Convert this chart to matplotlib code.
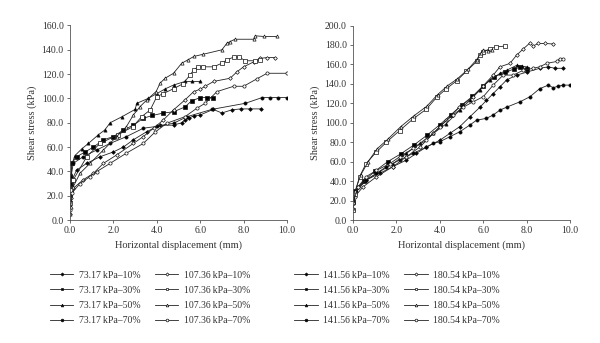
import matplotlib.pyplot as plt

plt.rcParams['font.family'] = ['Liberation Serif', 'DejaVu Serif']

# ---- left panel: 73.17 kPa and 107.36 kPa ----
x_73_10 = [0, 0.03, 0.1, 0.3, 0.77, 1.38, 2.0, 2.46, 2.92, 3.54, 4.15, 4.77, 5.15, 5.3, 5.5, 5.7, 6.0, 6.6, 7.0, 7.45, 7.87, 8.3, 8.8]
y_73_10 = [16, 25, 33, 41, 46.6, 52, 56, 60, 66, 72.7, 78, 78, 80, 82.3, 84, 85.6, 86.4, 91, 88, 90.6, 91.4, 91.4, 91.4]
x_73_30 = [0, 0.03, 0.08, 0.3, 0.7, 1.08, 1.54, 2.0, 2.46, 2.92, 3.38, 3.8, 4.3, 4.77, 5.3, 5.6, 6.0, 6.3, 6.6]
y_73_30 = [20, 30, 46.6, 52, 56, 60, 66, 68.6, 74, 78, 83.7, 86, 88, 89, 93, 98, 100.7, 100.7, 100.7]
x_73_50 = [0, 0.05, 0.1, 0.23, 0.54, 0.85, 1.3, 1.6, 1.85, 2.4, 3.0, 3.08, 3.6, 4.0, 4.4, 4.77, 5.3, 5.6, 6.0]
y_73_50 = [25, 38, 46.6, 53, 58.5, 63, 70, 74, 80, 85, 91, 96, 100, 104, 108, 111, 114, 114, 114]
x_73_70 = [0, 0.05, 0.15, 0.6, 1.23, 1.85, 2.6, 3.38, 4.0, 4.77, 5.4, 6.54, 8.08, 8.85, 9.23, 9.6, 10.0]
y_73_70 = [22, 35.7, 46.6, 52, 57.6, 63, 68.6, 75.5, 77, 79.6, 85, 91, 96, 100.7, 100.7, 100.7, 100.7]

x_107_10 = [0, 0.05, 0.15, 0.6, 1.08, 1.54, 2.15, 2.92, 3.38, 3.85, 4.3, 4.77, 5.3, 5.7, 6.0, 6.23, 6.62, 7.38, 7.7, 8.0, 8.46, 8.77, 9.08, 9.46]
y_107_10 = [5, 18, 26, 33, 38.4, 46.6, 53.5, 63, 68.6, 75.5, 82.3, 90.6, 98.8, 105.6, 107.6, 110, 114, 116.6, 122, 126, 130, 133, 133.6, 133.6]
x_107_30 = [0, 0.05, 0.15, 0.77, 1.38, 2.2, 2.9, 3.3, 3.7, 4.0, 4.3, 4.77, 5.2, 5.54, 5.7, 5.9, 6.15, 6.62, 7.0, 7.23, 7.54, 7.8, 8.08, 8.54, 8.77]
y_107_30 = [14, 25, 33, 52, 63, 70, 76.8, 85, 90.6, 101.5, 104, 108, 112, 119.4, 123.5, 126, 126, 126, 129, 131.7, 134, 134, 131, 131, 131.7]
x_107_50 = [0, 0.03, 0.15, 0.46, 0.92, 1.54, 2.15, 2.6, 2.92, 3.23, 3.54, 3.97, 4.15, 4.38, 4.77, 5.15, 5.46, 5.7, 6.15, 7.0, 7.23, 7.38, 7.6, 8.46, 8.54, 8.92, 9.54]
y_107_50 = [5, 11, 27.4, 38.4, 46.6, 57.6, 68.6, 76.8, 86.4, 93.3, 98.8, 105.7, 112.5, 116.6, 120.7, 129, 132, 134.5, 136.4, 140, 145.4, 146.8, 148.7, 148.7, 151.5, 151, 151]
x_107_70 = [0, 0.08, 0.46, 0.92, 1.23, 1.85, 2.6, 3.38, 3.9, 4.46, 5.3, 5.85, 6.23, 6.77, 7.54, 8.0, 8.6, 9.08, 10.0]
y_107_70 = [8, 22, 30, 35.7, 39.8, 46.6, 55, 63, 72, 79.6, 85, 92, 96, 105.6, 110, 110, 116, 120.7, 120.7]

# ---- right panel: 141.56 kPa and 180.54 kPa ----
x_141_10 = [0, 0.08, 0.6, 1.23, 1.85, 2.46, 2.92, 3.38, 4.0, 4.46, 4.92, 5.38, 5.85, 6.15, 6.46, 6.77, 7.08, 7.54, 8.0, 8.6, 9.0, 9.3, 9.7]
y_141_10 = [17, 27, 41, 48, 55, 61.6, 68.5, 75, 82, 89, 96, 106, 116, 123, 130, 137, 144, 149, 152, 156, 157.5, 156, 156]
x_141_30 = [0, 0.1, 0.5, 1.0, 1.6, 2.2, 2.8, 3.4, 4.0, 4.5, 5.0, 5.5, 6.0, 6.5, 7.0, 7.4, 7.7, 8.0]
y_141_30 = [18, 30, 40, 50, 60, 68, 77, 87, 98, 108, 118, 127, 138, 147, 152, 155, 157, 155]
x_141_50 = [0, 0.15, 0.6, 1.23, 1.85, 2.46, 3.08, 3.7, 4.3, 4.92, 5.38, 5.85, 6.3, 6.77, 7.08, 7.54, 7.8, 8.0]
y_141_50 = [17, 30.8, 41, 49.7, 58, 68.5, 78.8, 89, 99, 113, 123, 133.6, 144, 150.7, 154, 159, 158, 157.5]
x_141_70 = [0, 0.23, 0.6, 1.08, 1.54, 2.15, 2.77, 3.38, 3.7, 4.0, 4.46, 4.92, 5.38, 5.7, 6.15, 6.46, 6.77, 7.08, 7.7, 8.15, 8.6, 9.0, 9.23, 9.46, 9.7, 10.0]
y_141_70 = [20.5, 34, 41, 48, 54.8, 61.6, 68.5, 75, 78.8, 80.5, 85.6, 90.7, 97.6, 102.7, 104.5, 108, 113, 116, 121.6, 126.7, 135, 138.7, 136, 137.7, 138.7, 138.7]

x_180_10 = [0, 0.08, 0.46, 1.08, 1.85, 2.46, 3.08, 3.7, 4.3, 4.9, 5.54, 6.0, 6.46, 6.77, 7.23, 7.54, 7.85, 8.15, 8.3, 8.54, 8.85, 9.23]
y_180_10 = [10, 24, 34, 44.5, 55, 65, 75, 89, 102.7, 116, 126.7, 138, 149, 157.5, 161, 169.5, 176, 182, 179, 181.5, 181.5, 181]
x_180_30 = [0, 0.08, 0.3, 0.6, 1.08, 1.54, 2.15, 2.77, 3.38, 3.85, 4.3, 4.77, 5.23, 5.7, 5.85, 6.0, 6.3, 6.6, 7.0]
y_180_30 = [10, 27, 44.5, 58, 70, 80, 92, 104, 114, 126, 135, 143, 153, 163, 170, 173, 176, 178, 178.8]
x_180_50 = [0, 0.1, 0.35, 0.7, 1.1, 1.6, 2.2, 2.8, 3.4, 3.9, 4.35, 4.8, 5.3, 5.7, 5.9, 6.0, 6.2, 6.4]
y_180_50 = [12, 30, 46, 60, 73, 83, 96, 107, 117, 129, 138, 145, 155, 165, 172, 175, 174, 175]
x_180_70 = [0, 0.23, 0.6, 1.08, 1.7, 2.15, 2.77, 3.38, 4.0, 4.6, 5.08, 5.54, 6.0, 6.46, 6.92, 7.38, 7.85, 8.3, 8.6, 8.92, 9.38, 9.54, 9.7]
y_180_70 = [17, 34, 44.5, 51, 58, 65, 73.6, 82, 96, 108, 116, 121.6, 126.7, 138.7, 149, 149, 154, 156, 157.5, 161, 163, 166, 166]

markers = ['D', 's', '^', 'o']
ratios = ['10%', '30%', '50%', '70%']

left = [
    ('73.17', [(x_73_10, y_73_10), (x_73_30, y_73_30), (x_73_50, y_73_50), (x_73_70, y_73_70)], 'k'),
    ('107.36', [(x_107_10, y_107_10), (x_107_30, y_107_30), (x_107_50, y_107_50), (x_107_70, y_107_70)], 'white'),
]
right = [
    ('141.56', [(x_141_10, y_141_10), (x_141_30, y_141_30), (x_141_50, y_141_50), (x_141_70, y_141_70)], 'k'),
    ('180.54', [(x_180_10, y_180_10), (x_180_30, y_180_30), (x_180_50, y_180_50), (x_180_70, y_180_70)], 'white'),
]

fig = plt.figure(figsize=(6.0, 3.43), dpi=100)
ax1 = fig.add_axes([70/600, 1-220/343, 217/600, 194.5/343])
ax2 = fig.add_axes([353/600, 1-220/343, 217/600, 194.5/343])


def draw_panel(ax, groups, ymax, ystep, leg_x):
    for load, series, face in groups:
        for (xs, ys), m, r in zip(series, markers, ratios):
            ms = 2.3 if m != 'D' else 1.9
            ax.plot(xs, ys, color='#222222', lw=0.6, marker=m, ms=ms,
                    mfc=face, mec='#111111', mew=0.5,
                    label=f'{load}\u2009kPa\u2013{r}')
    ax.set_xlim(0, 10)
    ax.set_ylim(0, ymax)
    ax.set_xticks([0, 2, 4, 6, 8, 10])
    ax.set_yticks([i * ystep for i in range(int(ymax / ystep) + 1)])
    ax.xaxis.set_major_formatter(lambda v, p: f'{v:.1f}')
    ax.yaxis.set_major_formatter(lambda v, p: f'{v:.1f}')
    for s in ['top', 'right']:
        ax.spines[s].set_visible(False)
    for s in ['left', 'bottom']:
        ax.spines[s].set_linewidth(0.6)
        ax.spines[s].set_color('#555555')
    ax.tick_params(direction='out', length=2.5, width=0.6, color='#555555',
                   labelsize=7, labelcolor='#333333', pad=2)
    ax.set_xlabel('Horizontal displacement (mm)', fontsize=7.5, color='#333333', labelpad=4)
    ax.set_ylabel('Shear stress (kPa)', fontsize=7.5, color='#333333', labelpad=3)
    ax.legend(loc='upper center', bbox_to_anchor=(leg_x, 1-266/343),
              bbox_transform=fig.transFigure, ncol=2, frameon=False,
              fontsize=7, handlelength=2.4, handletextpad=0.55,
              columnspacing=1.5, labelspacing=0.62, borderpad=0,
              markerscale=0.85, labelcolor='#333333')


draw_panel(ax1, left, 160, 20, 150/600)
draw_panel(ax2, right, 200, 20, 397/600)

fig.savefig('out.png', dpi=100)
